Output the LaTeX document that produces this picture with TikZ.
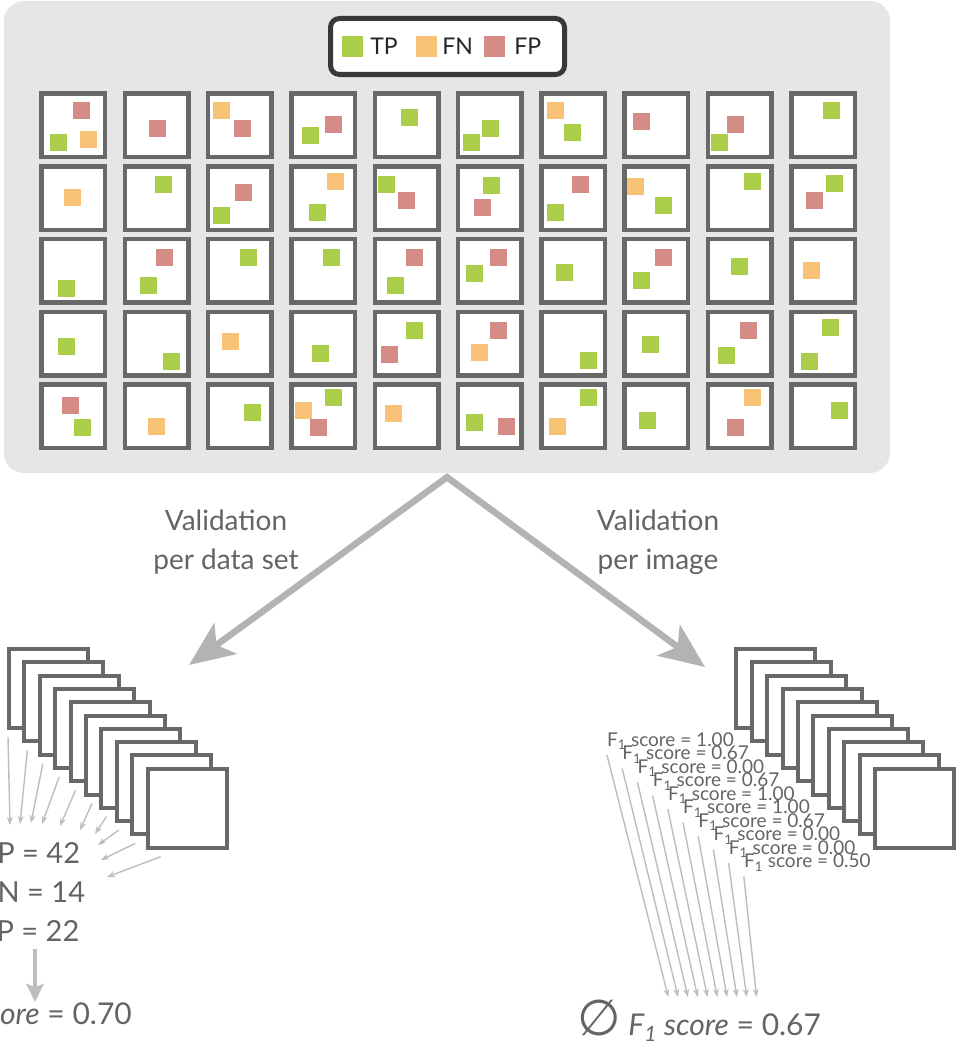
\documentclass[tikz,border=0pt]{standalone}
\usepackage{fontspec}
\setmainfont{Lato}
\newfontfamily\symfont{DejaVu Sans}
\usepackage{tikz}
\usetikzlibrary{arrows.meta, positioning, calc}
\definecolor{tpc}{HTML}{AACE4A}
\definecolor{fnc}{HTML}{F8C377}
\definecolor{fpc}{HTML}{D48B85}
\definecolor{panelgray}{HTML}{E6E6E6}
\definecolor{framegray}{HTML}{686868}
\definecolor{textgray}{HTML}{646464}
\definecolor{arrgray}{HTML}{B3B3B3}
\definecolor{thingray}{HTML}{BDBDBD}

\begin{document}
\begin{tikzpicture}[x=1pt, y=-1pt,
  panel/.style={fill=panelgray, rounded corners=20pt, minimum width=886pt, minimum height=472pt, inner sep=0pt},
  cell/.style={draw=framegray, fill=white, line width=4.5pt, minimum size=63.5pt, inner sep=0pt},
  stackbox/.style={draw=framegray, fill=white, line width=4pt, minimum size=79pt, inner sep=0pt},
  legbox/.style={draw=black!78, fill=white, line width=5pt, rounded corners=9pt, minimum width=234pt, minimum height=56pt, inner sep=0pt},
  legsq/.style={minimum size=21pt, inner sep=0pt},
  legtxt/.style={font=\fontsize{23}{23}\selectfont, text=black!85, inner sep=0pt},
  vlabel/.style={font=\fontsize{28}{39}\selectfont, text=textgray, align=center, inner sep=0pt, anchor=base},
  count/.style={font=\fontsize{29}{29}\selectfont, text=textgray, inner sep=0pt, anchor=base west},
  flabel/.style={font=\fontsize{19}{19}\selectfont, text=textgray, inner sep=0pt, anchor=base west},
  result/.style={font=\fontsize{30}{30}\selectfont, text=textgray, inner sep=0pt, anchor=base west},
  bigarr/.style={draw=arrgray, line width=6.5pt, {Stealth[length=45pt, width=38pt, inset=11pt]}-{Stealth[length=45pt, width=38pt, inset=11pt]}},
  thinarr/.style={draw=thingray, line width=1.4pt, -{Stealth[length=8pt, width=6pt]}},
  midarr/.style={draw=thingray, line width=4.5pt, -{Stealth[length=18pt, width=17pt, inset=3pt]}}
]
\useasboundingbox (0,0) rectangle (959,1049);

\node[panel] (panel) at (447,237) {};
\node[legbox] (legend) at (447.5,46.5) {};
\node[legsq, fill=tpc] (sq-tp) at (352.5,46.5) {};
\node[legtxt, right=7pt of sq-tp] (tx-tp) {TP};
\node[legsq, fill=fnc] (sq-fn) at (426.5,46.5) {};
\node[legtxt, right=5pt of sq-fn] (tx-fn) {FN};
\node[legsq, fill=fpc] (sq-fp) at (494.5,46.5) {};
\node[legtxt, right=9pt of sq-fp] (tx-fp) {FP};

\foreach \r in {1,...,5}
  \foreach \c in {1,...,10}
    \node[cell] (c-\r-\c) at ({73.3+83.3*(\c-1)}, {125.2+72.8*(\r-1)}) {};

\foreach \r/\c/\dx/\dy/\m in {
  1/1/34/11/fpc, 1/1/11/43/tpc, 1/1/41/40/fnc, 1/2/26/29/fpc, 1/3/7/11/fnc, 1/3/28/29/fpc,
  1/4/13/36/tpc, 1/4/36/25/fpc, 1/5/28/18/tpc, 1/6/7/43/tpc, 1/6/26/29/tpc, 1/7/8/11/fnc,
  1/7/25/33/tpc, 1/8/11/22/fpc, 1/9/21/25/fpc, 1/9/5/43/tpc, 1/10/34/11/tpc,
  2/1/25/25/fnc, 2/2/32/12/tpc, 2/3/29/20/fpc, 2/3/7/43/tpc, 2/4/38/9/fnc, 2/4/20/40/tpc,
  2/5/5/12/tpc, 2/5/25/28/fpc, 2/6/27/13/tpc, 2/6/18/35/fpc, 2/7/33/12/fpc, 2/7/8/40/tpc,
  2/8/5/14/fnc, 2/8/33/33/tpc, 2/9/38/9/tpc, 2/10/37/11/tpc, 2/10/17/28/fpc,
  3/1/19/43/tpc, 3/2/33/12/fpc, 3/2/17/40/tpc, 3/3/34/12/tpc, 3/4/34/12/tpc, 3/5/33/12/fpc,
  3/5/14/40/tpc, 3/6/34/12/fpc, 3/6/10/28/tpc, 3/7/17/27/tpc, 3/8/33/12/fpc, 3/8/11/35/tpc,
  3/9/25/21/tpc, 3/10/14/25/fnc,
  4/1/19/28/tpc, 4/2/40/43/tpc, 4/3/16/23/fnc, 4/4/23/35/tpc, 4/5/33/12/tpc, 4/5/8/36/fpc,
  4/6/34/12/fpc, 4/6/15/34/fnc, 4/7/41/42/tpc, 4/8/20/26/tpc, 4/9/34/12/fpc, 4/9/12/37/tpc,
  4/10/33/9/tpc, 4/10/12/43/tpc,
  5/1/23/15/fpc, 5/1/35/37/tpc, 5/2/25/36/fnc, 5/3/38/22/tpc, 5/4/36/7/tpc, 5/4/6/20/fnc,
  5/4/21/37/fpc, 5/5/12/23/fnc, 5/6/10/32/tpc, 5/6/42/36/fpc, 5/7/41/7/tpc, 5/7/10/36/fnc,
  5/8/17/30/tpc, 5/9/38/7/fnc, 5/9/21/37/fpc, 5/10/42/20/tpc}
  \fill[\m] ($(c-\r-\c.center)+(\dx-34,\dy-34)$) rectangle ++(17,17);

\draw[bigarr] (189,665) -- ([yshift=-4pt]panel.south) -- (705,667);
\node[vlabel] (dslab) at (226,569) {Validation\\per data set};
\node[vlabel] (imlab) at (658,569) {Validation\\per image};

\foreach \i in {0,...,9}
  \node[stackbox] (ls-\i) at ({48.5+15.4*\i}, {688.5+13.3*\i}) {};
\foreach \i in {0,...,9}
  \node[stackbox] (rs-\i) at ({775.8+15.4*\i}, {688.5+13.3*\i}) {};

\node[count] (tp) at (-20,863) {TP = 42};
\node[count] (fn) at (-19,902) {FN = 14};
\node[count] (fp) at (-20,941) {FP = 22};
\foreach \i/\sx/\ex/\ey in {0/1/10/825, 1/5/20/824, 2/5/31/823, 3/6/42/824, 4/7/60/826,
  5/8/80/830, 6/7/95/834, 7/4/98/845, 8/5/101/860, 9/15/107/877} {
  \coordinate (le-\i) at (\ex,\ey);
  \draw[thinarr] ([shift={(\sx,7)}]ls-\i.south west) -- (le-\i);
}
\node[result] (dsres) at (-61,1024) {\textit{F\textsubscript{1} score} = 0.70};
\draw[midarr] ([shift={(55,8)}]fp.base west) -- ([shift={(96,0)}]dsres.north west);

\foreach \i/\v in {0/1.00, 1/0.67, 2/0.00, 3/0.67, 4/1.00, 5/1.00, 6/0.67, 7/0.00, 8/0.00, 9/0.50}
  \node[flabel] (fl-\i) at ({607+15.2*\i}, {746+13.5*\i}) {F\textsubscript{1} score = \v};
\foreach \i in {0,...,9} {
  \coordinate (re-\i) at ({668.3+9.8*\i}, 997);
  \draw[thinarr] ([shift={(0,9)}]fl-\i.base west) -- (re-\i);
}
\node[result] (imres) at (577,1035) {{\symfont\fontsize{50}{50}\selectfont ∅} \textit{F\textsubscript{1} score} = 0.67};
\end{tikzpicture}
\end{document}
